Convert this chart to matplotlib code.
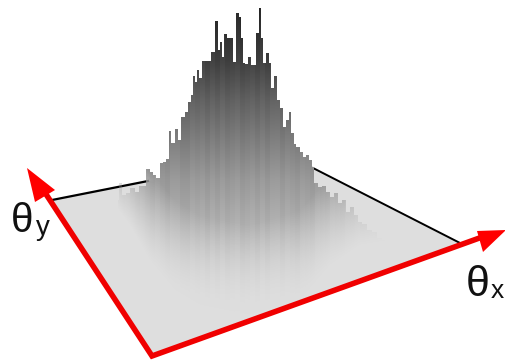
import numpy as np
import matplotlib
matplotlib.use('Agg')
import matplotlib.pyplot as plt

# silhouette of the histogram (pixel coordinates)
column_x = [118, 120, 124, 128, 133, 137, 141, 145, 148, 152, 155, 158, 162, 165, 168, 170, 173, 177, 180,
            183, 187, 190, 192, 194, 197, 198, 201, 204, 207, 210, 213, 217, 219, 221, 223, 226, 229, 232,
            234, 238, 240, 242, 244, 247, 250, 252, 255, 258, 260, 262, 265, 268, 270, 273, 276, 279, 282,
            284, 288, 290, 293, 295, 298, 302, 305, 308, 311, 313, 316, 320, 324, 328, 332, 336, 340, 344,
            348, 352, 356, 360, 365, 370, 375, 380, 385, 390, 395, 400]
column_top = [200, 183, 195, 193, 188, 192, 186, 186, 169, 172, 175, 178, 163, 162, 159, 131, 143, 129, 140,
              117, 112, 102, 95, 76, 82, 70, 78, 61, 61, 61, 52, 21, 50, 42, 57, 34, 38, 38,
              62, 13, 17, 38, 63, 64, 57, 65, 65, 33, 8, 38, 63, 53, 63, 88, 76, 100, 108,
              127, 120, 112, 133, 144, 147, 152, 157, 155, 160, 167, 183, 187, 186, 192, 197, 193, 203, 200,
              212, 207, 215, 222, 224, 230, 232, 238, 240, 245, 248, 252]

# gray level against image height
shade_y = [5, 60, 100, 140, 180, 220, 260, 300, 340]
shade_gray = [0.14, 0.25, 0.38, 0.49, 0.60, 0.68, 0.77, 0.85, 0.88]

# where the body melts into the floor
fade_x = [115, 130, 150, 175, 200, 250, 300, 330, 360, 390, 420]
fade_y = [205, 225, 260, 290, 305, 315, 300, 265, 245, 240, 240]

# faint vertical streaks, one value per 5 px starting at x=115
streak = [0.01, -0.01, 0.01, 0.0, -0.01, 0.01, 0.0, -0.01, 0.012, 0.0, -0.012, 0.01, 0.01, -0.01, -0.01,
          0.012, 0.0, 0.01, -0.012, 0.01, -0.01, 0.012, -0.01, 0.0, 0.012, -0.012, 0.0, 0.01, -0.01, 0.012,
          -0.01, 0.01, 0.012, -0.01, 0.01, 0.0, -0.012, 0.01, 0.0, -0.01, 0.012, 0.0, -0.01, 0.01, 0.0,
          -0.012, 0.01, 0.0, 0.012, -0.01, 0.0, 0.01, -0.01, 0.012, 0.0, -0.01, 0.01, 0.0, -0.01, 0.01]

floor_x = [52, 148, 313, 462, 152]
floor_y = [200, 181, 167, 244, 356]

fig = plt.figure(figsize=(5.06, 3.6), dpi=100)
ax = fig.add_axes([0, 0, 1, 1])
ax.set_xlim(0, 506)
ax.set_ylim(360, 0)
ax.axis('off')

# floor and back edges
ax.fill(floor_x, floor_y, color='#dedede', lw=0, zorder=1)
ax.plot([52, 148], [200, 181], color='black', lw=1.6, zorder=2)
ax.plot([313, 462], [168, 244], color='black', lw=1.4, zorder=2)

# histogram body: gray gradient clipped to the stepped silhouette
xx, yy = np.meshgrid(np.arange(506) + 0.5, np.arange(360) + 0.5)
gray = np.interp(yy, shade_y, shade_gray)
idx = np.clip(((xx - 115) // 5).astype(int), 0, len(streak) - 1)
gray = np.clip(gray + np.array(streak)[idx], 0, 1)
alpha = np.clip((np.interp(xx, fade_x, fade_y) - yy) / 90, 0, 1)
rgba = np.dstack([gray, gray, gray, alpha])

outline = ax.fill_between(column_x, column_top, 360, step='mid', color='none', lw=0)
im = ax.imshow(rgba, extent=[0, 506, 360, 0], interpolation='bilinear', aspect='auto', zorder=3)
im.set_clip_path(outline.get_paths()[0], transform=ax.transData)
ax.set_xlim(0, 506)
ax.set_ylim(360, 0)

# red axes
ax.plot([40, 152, 485], [185, 356, 236], color='#f00000', lw=4, solid_joinstyle='miter', zorder=4)
ax.fill([27, 55, 35], [168, 190, 202], color='#ff0000', lw=0, zorder=5)
ax.fill([506, 477, 483], [230, 231, 252], color='#ff0000', lw=0, zorder=5)

sans = ['Liberation Sans', 'DejaVu Sans']
ax.text(11, 232, 'θ', fontsize=29, family=sans, va='baseline', color='#111111', zorder=6)
ax.text(36, 235, 'y', fontsize=20, family=sans, va='baseline', color='#111111', zorder=6)
ax.text(466, 296, 'θ', fontsize=31, family=sans, va='baseline', color='#111111', zorder=6)
ax.text(491, 298, 'x', fontsize=19, family=sans, va='baseline', color='#111111', zorder=6)

fig.savefig('out.png', dpi=100)
